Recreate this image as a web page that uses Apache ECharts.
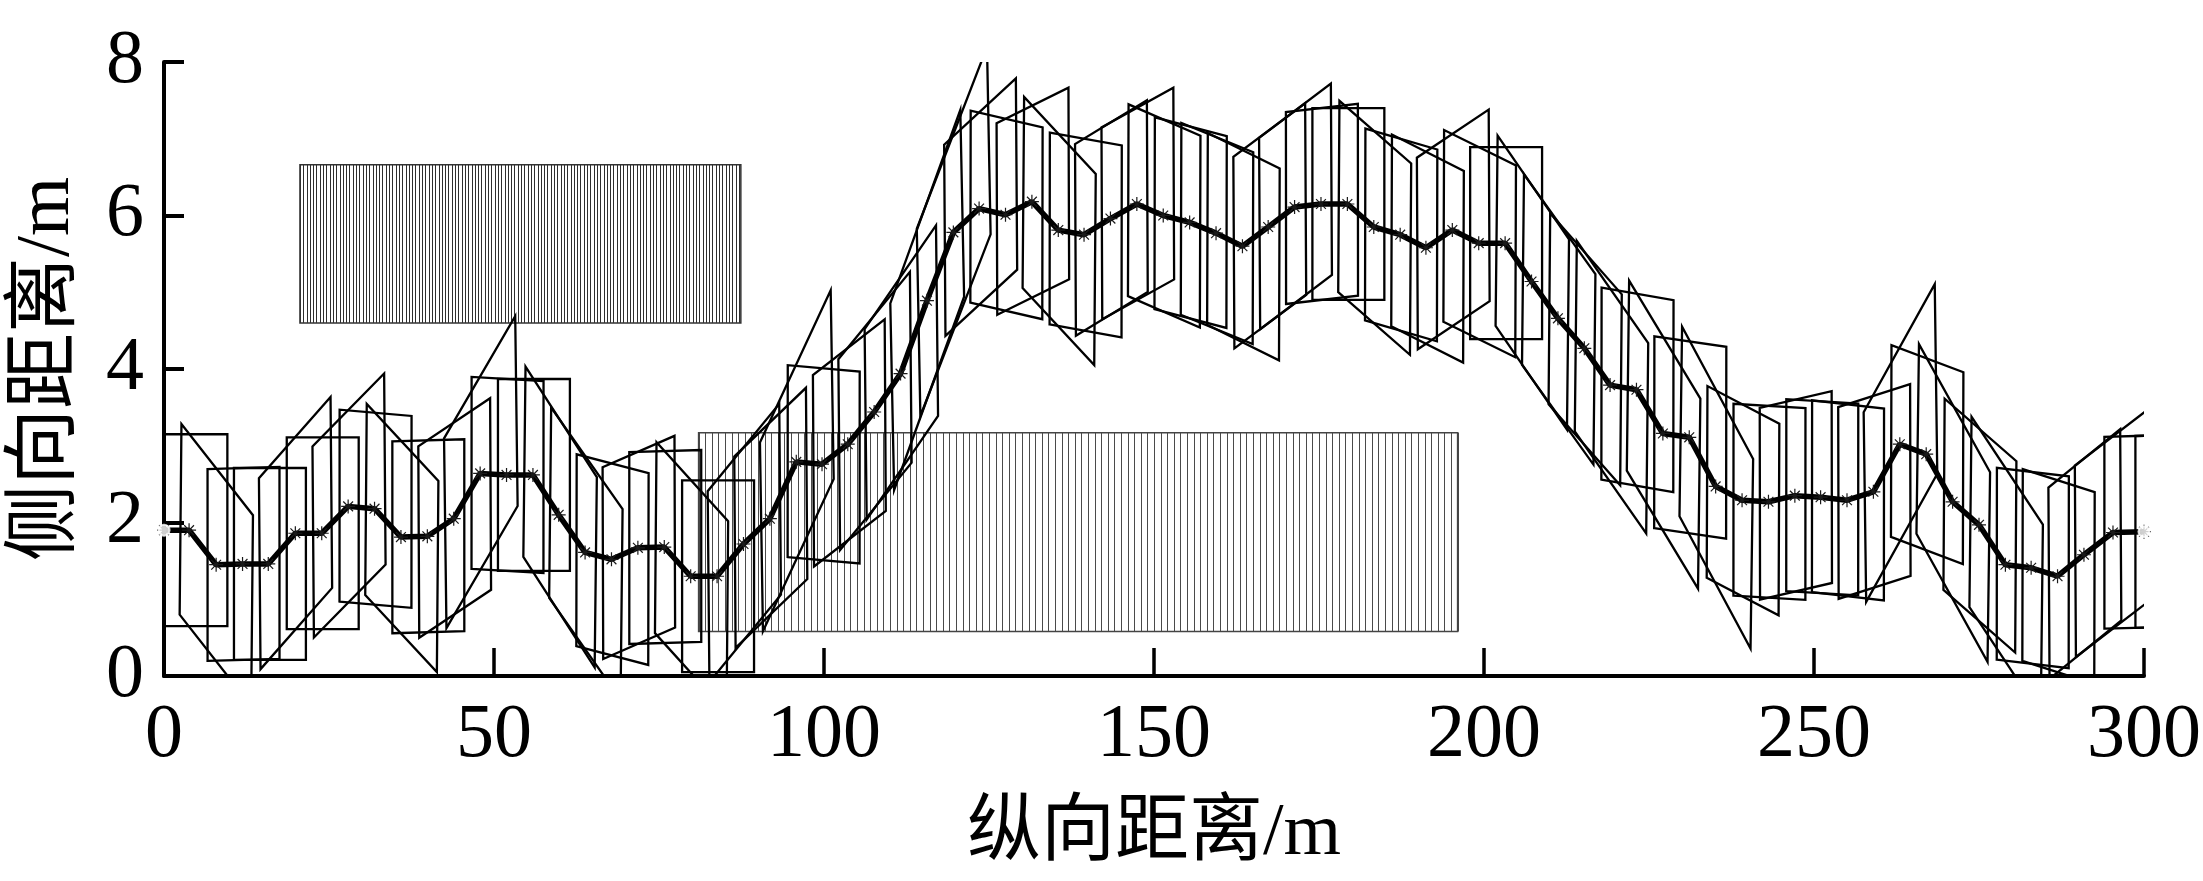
<!DOCTYPE html>
<html>
<head>
<meta charset="utf-8">
<script src="https://cdn.jsdelivr.net/npm/echarts@6/dist/echarts.min.js"></script>
<style>
  html, body { margin: 0; background: #fff; }
  #chart { width: 2203px; height: 881px; }
</style>
</head>
<body>
<div id="chart"></div>
<script>
// planned path (longitudinal x, lateral y), metres
const pathX = [0, 3.8, 7.9, 11.9, 15.8, 19.9, 23.9, 27.9, 31.9, 35.9, 39.9, 43.9, 47.9, 51.9, 55.9,
  59.8, 63.8, 67.8, 71.8, 75.8, 79.8, 83.8, 87.8, 91.8, 95.8, 99.7, 103.6, 107.6, 111.6, 115.6,
  119.6, 123.5, 127.5, 131.5, 135.5, 139.4, 143.4, 147.4, 151.4, 155.4, 159.4, 163.4, 167.3, 171.3,
  175.3, 179.3, 183.3, 187.3, 191.2, 195.2, 199.2, 203.2, 207.2, 211.2, 215.2, 219.1, 223.1, 227.1,
  231.1, 235.1, 239.1, 243.1, 247.1, 251.0, 255.0, 259.0, 263.0, 267.0, 271.0, 275.0, 279.0, 282.9,
  286.9, 290.9, 295.3, 300];
const pathY = [1.90, 1.90, 1.45, 1.46, 1.46, 1.86, 1.86, 2.21, 2.18, 1.81, 1.82, 2.05, 2.64, 2.62, 2.62,
  2.10, 1.61, 1.52, 1.67, 1.68, 1.30, 1.30, 1.72, 2.05, 2.79, 2.76, 3.02, 3.44, 3.94, 4.89,
  5.78, 6.09, 6.01, 6.18, 5.81, 5.75, 5.96, 6.15, 6.00, 5.91, 5.77, 5.60, 5.85, 6.11,
  6.15, 6.15, 5.85, 5.75, 5.58, 5.81, 5.64, 5.64, 5.14, 4.66, 4.27, 3.79, 3.73, 3.16,
  3.11, 2.47, 2.29, 2.27, 2.35, 2.33, 2.29, 2.40, 3.02, 2.89, 2.27, 1.97, 1.45, 1.41,
  1.30, 1.58, 1.87, 1.88];

// obstacles: [x0, x1, y0, y1]
const obstacleA = [20.6, 87.4, 4.60, 6.66];
const obstacleB = [81.0, 196.0, 0.58, 3.17];

// vehicle footprint, metres
const rearOverhang = 1.3;
const frontLength = 9.6;
const bodyWidth = 2.5;

const xTicks = [0, 50, 100, 150, 200, 250, 300];
const yTicks = [0, 2, 4, 6, 8];

const serif = "'Liberation Serif', 'Times New Roman', 'Noto Sans CJK SC', serif";

// heading at every path point from the next segment
const heading = pathX.map((x, i) => {
  const j = i < pathX.length - 1 ? i : i - 1;
  return Math.atan2(pathY[j + 1] - pathY[j], pathX[j + 1] - pathX[j]);
});
const poses = pathX.map((x, i) => [x, pathY[i], heading[i]]);

function renderVehicle(params, api) {
  const x = api.value(0), y = api.value(1), h = api.value(2);
  const c = Math.cos(h), s = Math.sin(h);
  const hw = bodyWidth / 2;
  const corners = [[-rearOverhang, -hw], [frontLength, -hw], [frontLength, hw], [-rearOverhang, hw]];
  const pts = corners.map(([a, b]) => api.coord([x + a * c - b * s, y + a * s + b * c]));
  return {
    type: 'polygon',
    shape: { points: pts },
    style: { fill: 'none', stroke: '#000', lineWidth: 2.3, lineJoin: 'miter' }
  };
}

function makeObstacle(step, hatchColor, borderColor) {
  return function (params, api) {
    const x0 = api.value(0), x1 = api.value(1), y0 = api.value(2), y1 = api.value(3);
    const tl = api.coord([x0, y1]), br = api.coord([x1, y0]);
    const children = [];
    for (let x = x0; x <= x1 + 1e-6; x += step) {
      const a = api.coord([x, y1]), b = api.coord([x, y0]);
      const px = Math.round(a[0]) + 0.5;
      children.push({
        type: 'line',
        shape: { x1: px, y1: a[1], x2: px, y2: b[1] },
        style: { stroke: hatchColor, lineWidth: 1 }
      });
    }
    children.push({
      type: 'rect',
      shape: { x: tl[0], y: tl[1], width: br[0] - tl[0], height: br[1] - tl[1] },
      style: { fill: 'none', stroke: borderColor, lineWidth: 1.5 }
    });
    return { type: 'group', children: children };
  };
}

const chart = echarts.init(document.getElementById('chart'), null, { renderer: 'canvas' });

chart.setOption({
  backgroundColor: '#fff',
  animation: false,
  grid: { left: 164, right: 59, top: 62, bottom: 205, containLabel: false, outerBoundsMode: 'none' },
  xAxis: {
    type: 'value',
    min: 0, max: 300, interval: 50,
    name: '纵向距离/m',
    nameLocation: 'middle',
    nameGap: 122,
    nameTextStyle: { fontFamily: serif, fontSize: 74, color: '#000' },
    axisLine: { show: true, lineStyle: { color: '#000', width: 4 } },
    axisTick: { show: true, inside: true, length: 28, lineStyle: { color: '#000', width: 3.5 } },
    axisLabel: { fontFamily: serif, fontSize: 76, color: '#000', margin: 22,
      formatter: v => xTicks.includes(v) ? String(v) : '' },
    splitLine: { show: false }
  },
  yAxis: {
    type: 'value',
    min: 0, max: 8, interval: 2,
    name: '侧向距离/m',
    nameLocation: 'middle',
    nameRotate: 90,
    nameGap: 78,
    nameTextStyle: { fontFamily: serif, fontSize: 76, color: '#000' },
    axisLine: { show: true, lineStyle: { color: '#000', width: 4 } },
    axisTick: { show: true, inside: true, length: 20, lineStyle: { color: '#000', width: 4 } },
    axisLabel: { fontFamily: serif, fontSize: 76, color: '#000', margin: 20,
      formatter: v => yTicks.includes(v) ? String(v) : '' },
    splitLine: { show: false }
  },
  series: [
    {
      type: 'custom',
      name: 'obstacleA',
      renderItem: makeObstacle(0.5, '#2e2e2e', '#333'),
      data: [obstacleA],
      clip: true,
      z: 1
    },
    {
      type: 'custom',
      name: 'obstacleB',
      renderItem: makeObstacle(1.0, '#4a4a4a', '#444'),
      data: [obstacleB],
      clip: true,
      z: 1
    },
    {
      type: 'custom',
      name: 'vehicle',
      renderItem: renderVehicle,
      data: poses,
      clip: true,
      z: 2
    },
    {
      type: 'line',
      name: 'path',
      data: pathX.map((x, i) => [x, pathY[i]]),
      symbol: 'path://M5,0L5,10M0,5L10,5M1.5,1.5L8.5,8.5M1.5,8.5L8.5,1.5',
      symbolSize: 14,
      showSymbol: true,
      itemStyle: { color: 'rgba(0,0,0,0)', borderColor: '#1a1a1a', borderWidth: 1.2 },
      lineStyle: { color: '#000', width: 5.5 },
      clip: true,
      z: 3
    },
    {
      type: 'scatter',
      name: 'ends',
      data: [[pathX[0], pathY[0]], [pathX[pathX.length - 1], pathY[pathY.length - 1]]],
      symbol: 'emptyCircle',
      symbolSize: 11,
      itemStyle: { color: '#fff', borderColor: '#222', borderWidth: 1.2 },
      clip: false,
      z: 4
    }
  ]
});
</script>
</body>
</html>
